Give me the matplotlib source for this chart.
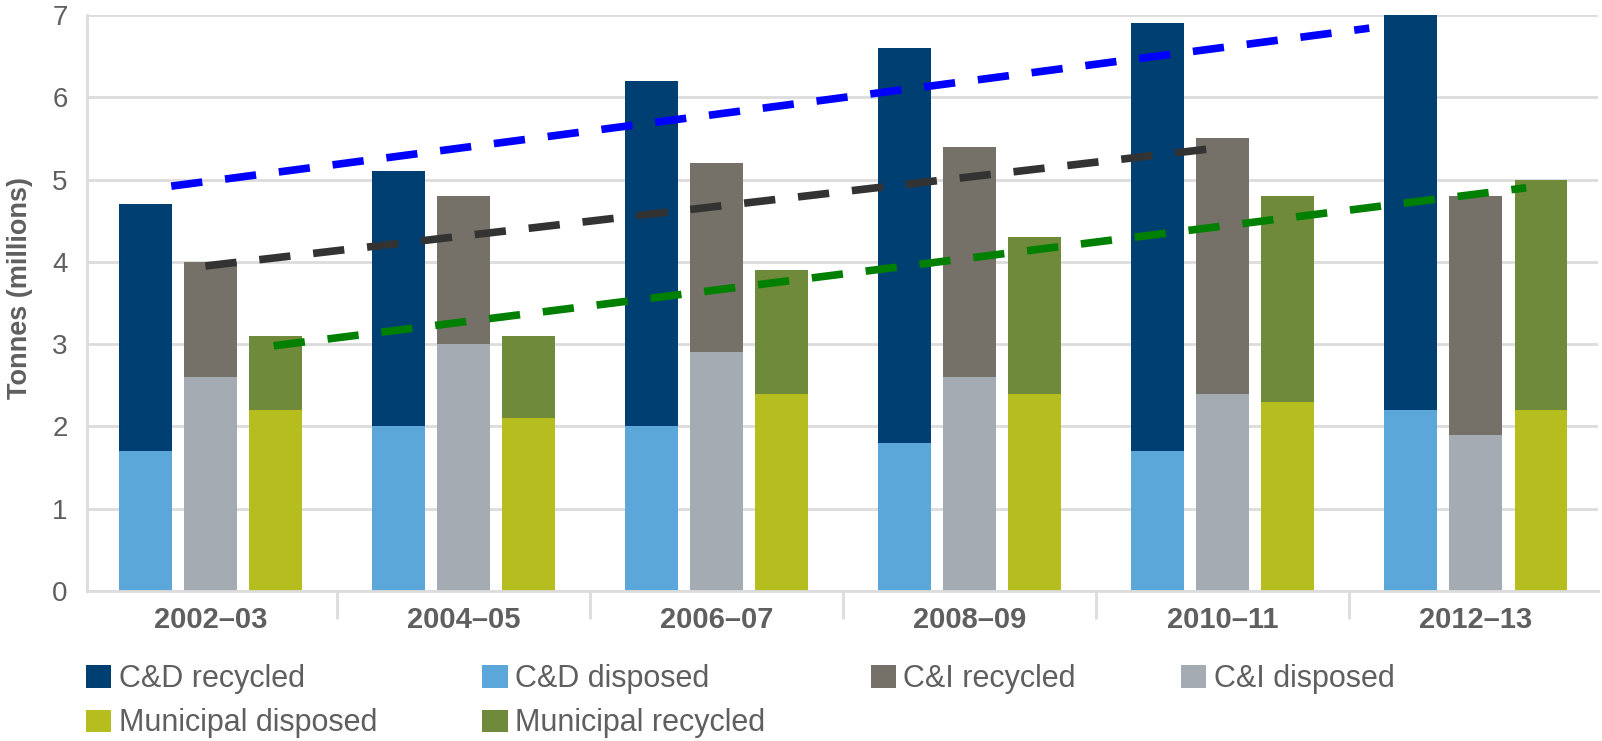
import numpy as np
import matplotlib
matplotlib.use('Agg')
import matplotlib.pyplot as plt
from matplotlib.patches import Patch

plt.rcParams['font.family'] = ['Liberation Sans', 'DejaVu Sans']

periods = ['2002–03', '2004–05', '2006–07', '2008–09', '2010–11', '2012–13']

cd_disposed = [1.7, 2.0, 2.0, 1.8, 1.7, 2.2]
cd_total = [4.7, 5.1, 6.2, 6.6, 6.9, 7.0]
ci_disposed = [2.6, 3.0, 2.9, 2.6, 2.4, 1.9]
ci_total = [4.0, 4.8, 5.2, 5.4, 5.5, 4.8]
mun_disposed = [2.2, 2.1, 2.4, 2.4, 2.3, 2.2]
mun_total = [3.1, 3.1, 3.9, 4.3, 4.8, 5.0]

# hand-drawn trend lines: (x start, x end) in group units, (y start, y end)
trend_cd_x = [-0.155, 4.58]
trend_cd_y = [4.92, 6.84]
trend_ci_x = [-0.02, 3.97]
trend_ci_y = [3.95, 5.38]
trend_mun_x = [0.25, 5.2]
trend_mun_y = [2.98, 4.9]

colors = {
    'C&D recycled': '#003f72',
    'C&D disposed': '#5ba7da',
    'C&I recycled': '#757168',
    'C&I disposed': '#a4abb3',
    'Municipal disposed': '#b5bd1f',
    'Municipal recycled': '#6f8a3a',
}
text_gray = '#5f5f5f'
grid_gray = '#dcdcdc'

fig = plt.figure(figsize=(16.02, 7.41), dpi=100)
ax = fig.add_axes([87 / 1602, 1 - 591 / 741, 1511 / 1602, 576 / 741])

x = np.arange(len(periods))
w = 0.206
off = 0.257

cd_rec = np.array(cd_total) - np.array(cd_disposed)
ci_rec = np.array(ci_total) - np.array(ci_disposed)
mun_rec = np.array(mun_total) - np.array(mun_disposed)

ax.bar(x - off, cd_disposed, w, color=colors['C&D disposed'], zorder=2)
ax.bar(x - off, cd_rec, w, bottom=cd_disposed, color=colors['C&D recycled'], zorder=2)
ax.bar(x, ci_disposed, w, color=colors['C&I disposed'], zorder=2)
ax.bar(x, ci_rec, w, bottom=ci_disposed, color=colors['C&I recycled'], zorder=2)
ax.bar(x + off, mun_disposed, w, color=colors['Municipal disposed'], zorder=2)
ax.bar(x + off, mun_rec, w, bottom=mun_disposed, color=colors['Municipal recycled'], zorder=2)

dash = (4.1, 3.0)
for tx, ty, c in [(trend_cd_x, trend_cd_y, '#0000ff'),
                  (trend_ci_x, trend_ci_y, '#333333'),
                  (trend_mun_x, trend_mun_y, '#008000')]:
    ax.plot(tx, ty, color=c, lw=5.5, dashes=dash, dash_capstyle='butt', zorder=3)

ax.set_xlim(-0.488, 5.484)
ax.set_ylim(0, 7)
ax.set_yticks(range(0, 8))
ax.yaxis.grid(True, color=grid_gray, lw=2, zorder=0)
ax.set_axisbelow(True)

for s in ['top', 'right']:
    ax.spines[s].set_visible(False)
for s in ['left', 'bottom']:
    ax.spines[s].set_color(grid_gray)
    ax.spines[s].set_linewidth(2)

ax.set_xticks(x)
ax.set_xticklabels(periods, fontsize=21, fontweight='bold', color=text_gray)
ax.tick_params(axis='x', length=0, pad=11)
ax.set_xticks(np.arange(0.5, len(periods) - 1), minor=True)
ax.tick_params(axis='x', which='minor', length=20, color=grid_gray, width=2)
ax.tick_params(axis='y', length=0, pad=14, labelsize=20, labelcolor=text_gray)

fig.text(20 / 1602, 1 - 288 / 741, 'Tonnes (millions)', rotation=90,
         fontsize=19.5, fontweight='bold', color=text_gray,
         ha='center', va='center')

order = ['C&D recycled', 'Municipal disposed', 'C&D disposed',
         'Municipal recycled', 'C&I recycled', 'C&I disposed']
handles = [Patch(facecolor=colors[k], label=k) for k in order]
leg = fig.legend(handles=handles, ncol=4, loc='upper left',
                 bbox_to_anchor=(86 / 1602, 1 - 664 / 741), frameon=False,
                 borderpad=0, borderaxespad=0,
                 fontsize=22, handlelength=0.82, handleheight=0.75,
                 handletextpad=0.25, columnspacing=3.45, labelspacing=0.47)
for t in leg.get_texts():
    t.set_color(text_gray)

fig.savefig('out.png', dpi=100)
